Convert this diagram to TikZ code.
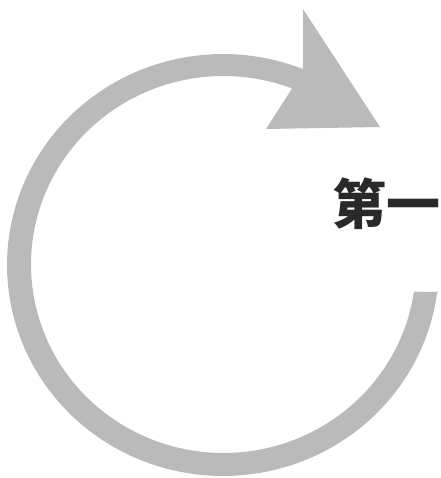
\documentclass[tikz,border=0pt]{standalone}
\usepackage{fontspec}
\newfontfamily\cjk{Noto Sans CJK SC}[BoldFont={* Black}]
\definecolor{bandgray}{gray}{0.73}
\definecolor{inkdark}{gray}{0.16}
\tikzset{
  band/.style={fill=bandgray,draw=none},
  title/.style={inner sep=0pt,text=inkdark,font=\cjk\bfseries\fontsize{40.5pt}{40.5pt}\selectfont}
}
\begin{document}
\begin{tikzpicture}[x=0.75pt,y=-0.75pt]
\useasboundingbox (0,0) rectangle (440,478);
\fill[band] (438,292)
  -- plot[domain=8.3:291.5,samples=140] ({223.5+192.5*cos(\x)},{264.5+188.5*sin(\x)})
  -- (293,87) -- (266,129) -- (380,127) -- (303,9) -- (303,67)
  -- plot[domain=291.7:7,samples=140] ({223+216*cos(\x)},{265+211*sin(\x)})
  -- cycle;
\node[title,anchor=center] (t) at (386.5,203.5) {第一};
\end{tikzpicture}
\end{document}
